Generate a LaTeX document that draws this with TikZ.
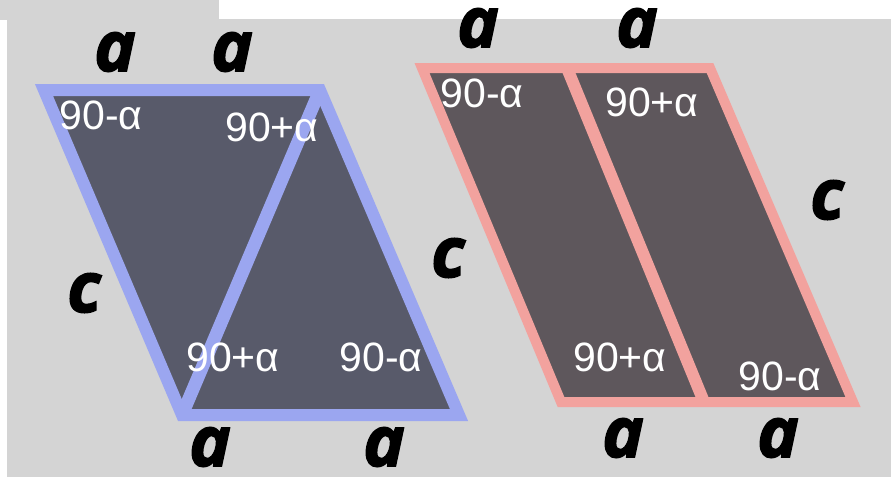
\documentclass[tikz,border=0pt]{standalone}
\usepackage{fontspec}
\newfontfamily\sidefont[BoldItalicFeatures={FakeBold=2}]{Open Sans}
\newfontfamily\anglefont{Liberation Sans}

\definecolor{bggray}{RGB}{212,212,212}
\definecolor{blueedge}{RGB}{155,166,240}
\definecolor{bluefill}{RGB}{88,90,106}
\definecolor{rededge}{RGB}{242,162,158}
\definecolor{redfill}{RGB}{94,87,92}

\tikzset{
  side/.style={inner sep=0pt, text=black,
    font=\sidefont\bfseries\itshape\fontsize{70}{70}\selectfont},
  anglelabel/.style={inner sep=0pt, text=white,
    font=\anglefont\fontsize{41}{41}\selectfont},
}

\begin{document}
\begin{tikzpicture}[x=1pt, y=-1pt, line join=miter]
    \useasboundingbox (0,0) rectangle (891,477);
    \fill[bggray] (0,0) rectangle (891,477);
    \fill[white] (219,0) rectangle (891,19);
    \fill[white] (0,20) rectangle (7,477);

    % blue parallelogram, cut along a diagonal
    \coordinate (b1) at (44,90);
    \coordinate (b2) at (320,90);
    \coordinate (b3) at (459,415);
    \coordinate (b4) at (182,415);
    \fill[bluefill] (b1) -- (b2) -- (b3) -- (b4) -- cycle;
    \draw[blueedge, line width=12pt] (b1) -- (b2) -- (b3) -- (b4) -- cycle;
    \draw[blueedge, line width=13pt] (b2) -- (b4);

    % red parallelogram, cut into two strips
    \coordinate (r1) at (422,68);
    \coordinate (r2) at (710,68);
    \coordinate (r3) at (853,402);
    \coordinate (r4) at (561,402);
    \coordinate (rt) at (567,68);
    \coordinate (rb) at (704,402);
    \fill[redfill] (r1) -- (r2) -- (r3) -- (r4) -- cycle;
    \draw[rededge, line width=10pt] (r1) -- (r2) -- (r3) -- (r4) -- cycle;
    \draw[rededge, line width=12pt] (rt) -- (rb);

    % side lengths
    \node[side] (ba1) at (115,52) {a};
    \node[side] (ba2) at (232,52) {a};
    \node[side] (ba3) at (210,447) {a};
    \node[side] (ba4) at (384,447) {a};
    \node[side] (bc) at (84,293) {c};
    \node[side] (ra1) at (478,28) {a};
    \node[side] (ra2) at (637,28) {a};
    \node[side] (ra3) at (623,438) {a};
    \node[side] (ra4) at (778,438) {a};
    \node[side] (rc1) at (448,258) {c};
    \node[side] (rc2) at (827,200) {c};

    % angles
    \node[anglelabel] (bq1) at (101,115) {90-α};
    \node[anglelabel] (bq2) at (272,127) {90+α};
    \node[anglelabel] (bq3) at (233,357) {90+α};
    \node[anglelabel] (bq4) at (381,357) {90-α};
    \node[anglelabel] (rq1) at (482,93) {90-α};
    \node[anglelabel] (rq2) at (652,102) {90+α};
    \node[anglelabel] (rq3) at (620,357) {90+α};
    \node[anglelabel] (rq4) at (780,376) {90-α};
\end{tikzpicture}
\end{document}
